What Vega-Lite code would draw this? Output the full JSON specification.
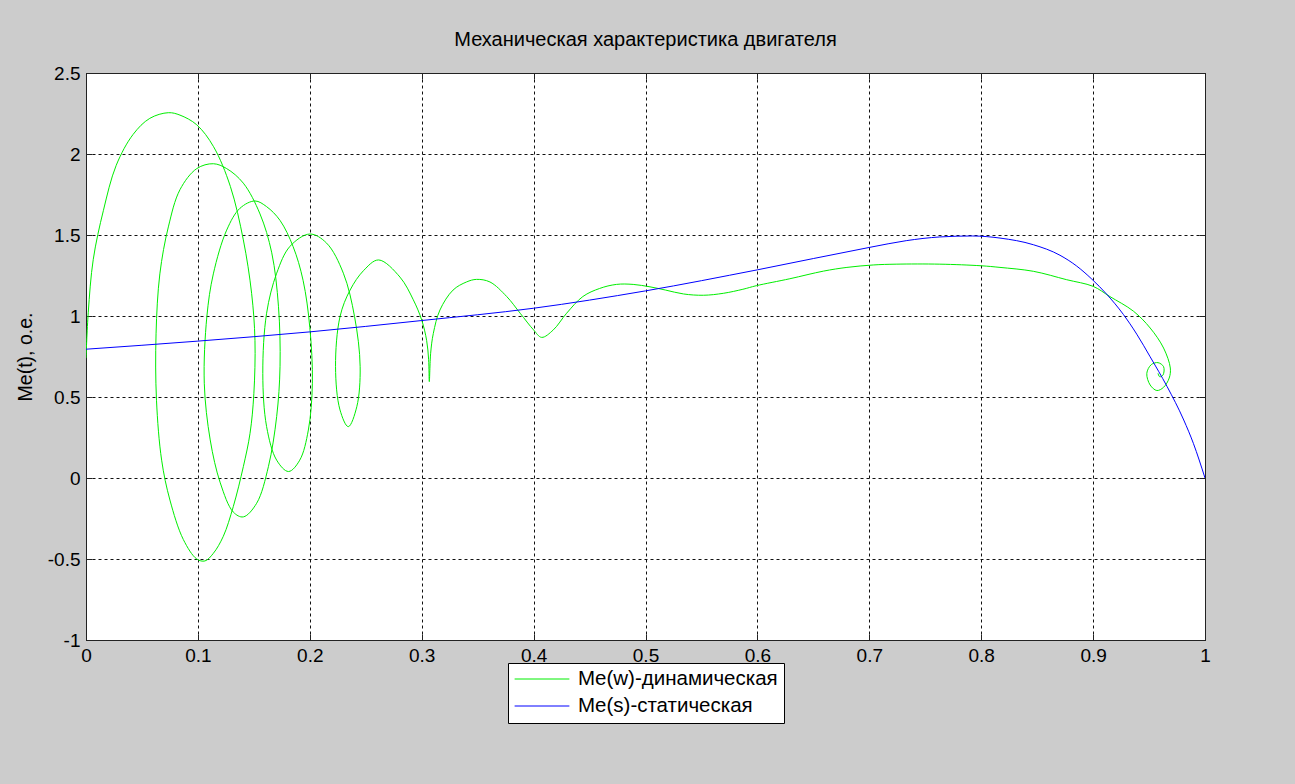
{
  "$schema": "https://vega.github.io/schema/vega-lite/v6.json",
  "autosize": {"type": "none"},
  "width": 1119,
  "height": 567,
  "padding": {"left": 86, "top": 73, "right": 90, "bottom": 144},
  "background": "#cccccc",
  "config": {
    "font": "Liberation Sans",
    "view": {"fill": "white", "stroke": "#222222", "strokeWidth": 1},
    "axis": {"labelFontSize": 19, "labelColor": "black", "titleFontSize": 19.5, "titleFontWeight": "normal", "titleColor": "black", "domainColor": "#222222", "tickColor": "#222222"},
    "legend": {"labelFontSize": 20.5, "labelColor": "black"}
  },
  "title": {"text": "Механическая характеристика двигателя", "fontSize": 20, "fontWeight": "normal", "color": "black", "offset": 14, "anchor": "middle"},
  "data": {"values": [
    {"s": "Me(w)-динамическая", "o": 1, "x": 0, "y": 0.74},
    {"s": "Me(w)-динамическая", "o": 2, "x": 0.002, "y": 1.02},
    {"s": "Me(w)-динамическая", "o": 3, "x": 0.0065, "y": 1.35},
    {"s": "Me(w)-динамическая", "o": 4, "x": 0.0155, "y": 1.65},
    {"s": "Me(w)-динамическая", "o": 5, "x": 0.027, "y": 1.93},
    {"s": "Me(w)-динамическая", "o": 6, "x": 0.042, "y": 2.12},
    {"s": "Me(w)-динамическая", "o": 7, "x": 0.057, "y": 2.22},
    {"s": "Me(w)-динамическая", "o": 8, "x": 0.0736, "y": 2.255},
    {"s": "Me(w)-динамическая", "o": 9, "x": 0.084, "y": 2.24},
    {"s": "Me(w)-динамическая", "o": 10, "x": 0.099, "y": 2.18},
    {"s": "Me(w)-динамическая", "o": 11, "x": 0.114, "y": 2.045},
    {"s": "Me(w)-динамическая", "o": 12, "x": 0.129, "y": 1.8},
    {"s": "Me(w)-динамическая", "o": 13, "x": 0.1406, "y": 1.47},
    {"s": "Me(w)-динамическая", "o": 14, "x": 0.148, "y": 1.14},
    {"s": "Me(w)-динамическая", "o": 15, "x": 0.151, "y": 0.85},
    {"s": "Me(w)-динамическая", "o": 16, "x": 0.15, "y": 0.52},
    {"s": "Me(w)-динамическая", "o": 17, "x": 0.1466, "y": 0.276},
    {"s": "Me(w)-динамическая", "o": 18, "x": 0.1406, "y": 0.07},
    {"s": "Me(w)-динамическая", "o": 19, "x": 0.1316, "y": -0.177},
    {"s": "Me(w)-динамическая", "o": 20, "x": 0.1227, "y": -0.36},
    {"s": "Me(w)-динамическая", "o": 21, "x": 0.1138, "y": -0.465},
    {"s": "Me(w)-динамическая", "o": 22, "x": 0.1063, "y": -0.512},
    {"s": "Me(w)-динамическая", "o": 23, "x": 0.099, "y": -0.5},
    {"s": "Me(w)-динамическая", "o": 24, "x": 0.087, "y": -0.38},
    {"s": "Me(w)-динамическая", "o": 25, "x": 0.075, "y": -0.136},
    {"s": "Me(w)-динамическая", "o": 26, "x": 0.0676, "y": 0.11},
    {"s": "Me(w)-динамическая", "o": 27, "x": 0.063, "y": 0.48},
    {"s": "Me(w)-динамическая", "o": 28, "x": 0.0626, "y": 0.89},
    {"s": "Me(w)-динамическая", "o": 29, "x": 0.066, "y": 1.26},
    {"s": "Me(w)-динамическая", "o": 30, "x": 0.0736, "y": 1.55},
    {"s": "Me(w)-динамическая", "o": 31, "x": 0.084, "y": 1.78},
    {"s": "Me(w)-динамическая", "o": 32, "x": 0.099, "y": 1.91},
    {"s": "Me(w)-динамическая", "o": 33, "x": 0.1138, "y": 1.94},
    {"s": "Me(w)-динамическая", "o": 34, "x": 0.1257, "y": 1.91},
    {"s": "Me(w)-динамическая", "o": 35, "x": 0.1406, "y": 1.82},
    {"s": "Me(w)-динамическая", "o": 36, "x": 0.1555, "y": 1.63},
    {"s": "Me(w)-динамическая", "o": 37, "x": 0.166, "y": 1.39},
    {"s": "Me(w)-динамическая", "o": 38, "x": 0.172, "y": 1.06},
    {"s": "Me(w)-динамическая", "o": 39, "x": 0.1734, "y": 0.69},
    {"s": "Me(w)-динамическая", "o": 40, "x": 0.1704, "y": 0.38},
    {"s": "Me(w)-динамическая", "o": 41, "x": 0.163, "y": 0.07},
    {"s": "Me(w)-динамическая", "o": 42, "x": 0.1525, "y": -0.156},
    {"s": "Me(w)-динамическая", "o": 43, "x": 0.1406, "y": -0.24},
    {"s": "Me(w)-динамическая", "o": 44, "x": 0.1316, "y": -0.21},
    {"s": "Me(w)-динамическая", "o": 45, "x": 0.12, "y": -0.03},
    {"s": "Me(w)-динамическая", "o": 46, "x": 0.111, "y": 0.235},
    {"s": "Me(w)-динамическая", "o": 47, "x": 0.1057, "y": 0.585},
    {"s": "Me(w)-динамическая", "o": 48, "x": 0.108, "y": 0.996},
    {"s": "Me(w)-динамическая", "o": 49, "x": 0.1138, "y": 1.26},
    {"s": "Me(w)-динамическая", "o": 50, "x": 0.1257, "y": 1.53},
    {"s": "Me(w)-динамическая", "o": 51, "x": 0.1376, "y": 1.665},
    {"s": "Me(w)-динамическая", "o": 52, "x": 0.151, "y": 1.71},
    {"s": "Me(w)-динамическая", "o": 53, "x": 0.1614, "y": 1.675},
    {"s": "Me(w)-динамическая", "o": 54, "x": 0.1734, "y": 1.59},
    {"s": "Me(w)-динамическая", "o": 55, "x": 0.185, "y": 1.43},
    {"s": "Me(w)-динамическая", "o": 56, "x": 0.194, "y": 1.22},
    {"s": "Me(w)-динамическая", "o": 57, "x": 0.2, "y": 0.93},
    {"s": "Me(w)-динамическая", "o": 58, "x": 0.2023, "y": 0.585},
    {"s": "Me(w)-динамическая", "o": 59, "x": 0.1987, "y": 0.296},
    {"s": "Me(w)-динамическая", "o": 60, "x": 0.191, "y": 0.11},
    {"s": "Me(w)-динамическая", "o": 61, "x": 0.181, "y": 0.04},
    {"s": "Me(w)-динамическая", "o": 62, "x": 0.1704, "y": 0.11},
    {"s": "Me(w)-динамическая", "o": 63, "x": 0.1614, "y": 0.317},
    {"s": "Me(w)-динамическая", "o": 64, "x": 0.158, "y": 0.646},
    {"s": "Me(w)-динамическая", "o": 65, "x": 0.1614, "y": 1.017},
    {"s": "Me(w)-динамическая", "o": 66, "x": 0.1704, "y": 1.264},
    {"s": "Me(w)-динамическая", "o": 67, "x": 0.1823, "y": 1.43},
    {"s": "Me(w)-динамическая", "o": 68, "x": 0.2, "y": 1.506},
    {"s": "Me(w)-динамическая", "o": 69, "x": 0.215, "y": 1.45},
    {"s": "Me(w)-динамическая", "o": 70, "x": 0.23, "y": 1.264},
    {"s": "Me(w)-динамическая", "o": 71, "x": 0.24, "y": 0.996},
    {"s": "Me(w)-динамическая", "o": 72, "x": 0.245, "y": 0.687},
    {"s": "Me(w)-динамическая", "o": 73, "x": 0.242, "y": 0.44},
    {"s": "Me(w)-динамическая", "o": 74, "x": 0.2344, "y": 0.317},
    {"s": "Me(w)-динамическая", "o": 75, "x": 0.227, "y": 0.42},
    {"s": "Me(w)-динамическая", "o": 76, "x": 0.223, "y": 0.687},
    {"s": "Me(w)-динамическая", "o": 77, "x": 0.227, "y": 0.996},
    {"s": "Me(w)-динамическая", "o": 78, "x": 0.236, "y": 1.16},
    {"s": "Me(w)-динамическая", "o": 79, "x": 0.248, "y": 1.28},
    {"s": "Me(w)-динамическая", "o": 80, "x": 0.2615, "y": 1.346},
    {"s": "Me(w)-динамическая", "o": 81, "x": 0.2806, "y": 1.24},
    {"s": "Me(w)-динамическая", "o": 82, "x": 0.2925, "y": 1.1},
    {"s": "Me(w)-динамическая", "o": 83, "x": 0.3, "y": 0.975},
    {"s": "Me(w)-динамическая", "o": 84, "x": 0.3044, "y": 0.85},
    {"s": "Me(w)-динамическая", "o": 85, "x": 0.3062, "y": 0.73},
    {"s": "Me(w)-динамическая", "o": 86, "x": 0.3068, "y": 0.595},
    {"s": "Me(w)-динамическая", "o": 87, "x": 0.308, "y": 0.77},
    {"s": "Me(w)-динамическая", "o": 88, "x": 0.3104, "y": 0.893},
    {"s": "Me(w)-динамическая", "o": 89, "x": 0.3163, "y": 1.037},
    {"s": "Me(w)-динамическая", "o": 90, "x": 0.328, "y": 1.16},
    {"s": "Me(w)-динамическая", "o": 91, "x": 0.34, "y": 1.21},
    {"s": "Me(w)-динамическая", "o": 92, "x": 0.349, "y": 1.226},
    {"s": "Me(w)-динамическая", "o": 93, "x": 0.361, "y": 1.21},
    {"s": "Me(w)-динамическая", "o": 94, "x": 0.376, "y": 1.12},
    {"s": "Me(w)-динамическая", "o": 95, "x": 0.388, "y": 1.017},
    {"s": "Me(w)-динамическая", "o": 96, "x": 0.4, "y": 0.914},
    {"s": "Me(w)-динамическая", "o": 97, "x": 0.4072, "y": 0.868},
    {"s": "Me(w)-динамическая", "o": 98, "x": 0.4176, "y": 0.914},
    {"s": "Me(w)-динамическая", "o": 99, "x": 0.4295, "y": 1.017},
    {"s": "Me(w)-динамическая", "o": 100, "x": 0.444, "y": 1.12},
    {"s": "Me(w)-динамическая", "o": 101, "x": 0.459, "y": 1.17},
    {"s": "Me(w)-динамическая", "o": 102, "x": 0.474, "y": 1.195},
    {"s": "Me(w)-динамическая", "o": 103, "x": 0.489, "y": 1.195},
    {"s": "Me(w)-динамическая", "o": 104, "x": 0.504, "y": 1.18},
    {"s": "Me(w)-динамическая", "o": 105, "x": 0.518, "y": 1.16},
    {"s": "Me(w)-динамическая", "o": 106, "x": 0.534, "y": 1.136},
    {"s": "Me(w)-динамическая", "o": 107, "x": 0.5517, "y": 1.128},
    {"s": "Me(w)-динамическая", "o": 108, "x": 0.5695, "y": 1.14},
    {"s": "Me(w)-динамическая", "o": 109, "x": 0.587, "y": 1.165},
    {"s": "Me(w)-динамическая", "o": 110, "x": 0.599, "y": 1.187},
    {"s": "Me(w)-динамическая", "o": 111, "x": 0.629, "y": 1.23},
    {"s": "Me(w)-динамическая", "o": 112, "x": 0.659, "y": 1.277},
    {"s": "Me(w)-динамическая", "o": 113, "x": 0.68, "y": 1.3},
    {"s": "Me(w)-динамическая", "o": 114, "x": 0.7035, "y": 1.315},
    {"s": "Me(w)-динамическая", "o": 115, "x": 0.724, "y": 1.32},
    {"s": "Me(w)-динамическая", "o": 116, "x": 0.763, "y": 1.32},
    {"s": "Me(w)-динамическая", "o": 117, "x": 0.8, "y": 1.31},
    {"s": "Me(w)-динамическая", "o": 118, "x": 0.8168, "y": 1.3},
    {"s": "Me(w)-динамическая", "o": 119, "x": 0.8466, "y": 1.276},
    {"s": "Me(w)-динамическая", "o": 120, "x": 0.8764, "y": 1.224},
    {"s": "Me(w)-динамическая", "o": 121, "x": 0.9, "y": 1.183},
    {"s": "Me(w)-динамическая", "o": 122, "x": 0.915, "y": 1.12},
    {"s": "Me(w)-динамическая", "o": 123, "x": 0.936, "y": 1.03},
    {"s": "Me(w)-динамическая", "o": 124, "x": 0.951, "y": 0.926},
    {"s": "Me(w)-динамическая", "o": 125, "x": 0.963, "y": 0.802},
    {"s": "Me(w)-динамическая", "o": 126, "x": 0.969, "y": 0.679},
    {"s": "Me(w)-динамическая", "o": 127, "x": 0.968, "y": 0.617},
    {"s": "Me(w)-динамическая", "o": 128, "x": 0.963, "y": 0.56},
    {"s": "Me(w)-динамическая", "o": 129, "x": 0.957, "y": 0.54},
    {"s": "Me(w)-динамическая", "o": 130, "x": 0.951, "y": 0.574},
    {"s": "Me(w)-динамическая", "o": 131, "x": 0.948, "y": 0.646},
    {"s": "Me(w)-динамическая", "o": 132, "x": 0.952, "y": 0.7},
    {"s": "Me(w)-динамическая", "o": 133, "x": 0.958, "y": 0.712},
    {"s": "Me(w)-динамическая", "o": 134, "x": 0.963, "y": 0.687},
    {"s": "Me(w)-динамическая", "o": 135, "x": 0.9625, "y": 0.636},
    {"s": "Me(w)-динамическая", "o": 136, "x": 0.9595, "y": 0.625},
    {"s": "Me(w)-динамическая", "o": 137, "x": 0.958, "y": 0.646},
    {"s": "Me(s)-статическая", "o": 1, "x": 0, "y": 0.795},
    {"s": "Me(s)-статическая", "o": 2, "x": 0.1, "y": 0.845},
    {"s": "Me(s)-статическая", "o": 3, "x": 0.2, "y": 0.902},
    {"s": "Me(s)-статическая", "o": 4, "x": 0.3, "y": 0.972},
    {"s": "Me(s)-статическая", "o": 5, "x": 0.4, "y": 1.048},
    {"s": "Me(s)-статическая", "o": 6, "x": 0.5, "y": 1.155},
    {"s": "Me(s)-статическая", "o": 7, "x": 0.6, "y": 1.285},
    {"s": "Me(s)-статическая", "o": 8, "x": 0.7006, "y": 1.424},
    {"s": "Me(s)-статическая", "o": 9, "x": 0.733, "y": 1.465},
    {"s": "Me(s)-статическая", "o": 10, "x": 0.763, "y": 1.488},
    {"s": "Me(s)-статическая", "o": 11, "x": 0.792, "y": 1.494},
    {"s": "Me(s)-статическая", "o": 12, "x": 0.8168, "y": 1.481},
    {"s": "Me(s)-статическая", "o": 13, "x": 0.8466, "y": 1.44},
    {"s": "Me(s)-статическая", "o": 14, "x": 0.8704, "y": 1.375},
    {"s": "Me(s)-статическая", "o": 15, "x": 0.885, "y": 1.31},
    {"s": "Me(s)-статическая", "o": 16, "x": 0.8988, "y": 1.228},
    {"s": "Me(s)-статическая", "o": 17, "x": 0.9122, "y": 1.134},
    {"s": "Me(s)-статическая", "o": 18, "x": 0.927, "y": 1.01},
    {"s": "Me(s)-статическая", "o": 19, "x": 0.939, "y": 0.888},
    {"s": "Me(s)-статическая", "o": 20, "x": 0.951, "y": 0.748},
    {"s": "Me(s)-статическая", "o": 21, "x": 0.966, "y": 0.566},
    {"s": "Me(s)-статическая", "o": 22, "x": 0.981, "y": 0.358},
    {"s": "Me(s)-статическая", "o": 23, "x": 0.9896, "y": 0.214},
    {"s": "Me(s)-статическая", "o": 24, "x": 1.0, "y": 0.0}
  ]},
  "resolve": {"axis": {"x": "independent", "y": "independent"}},
  "layer": [
    {
      "transform": [{"filter": "datum.s === 'Me(w)-динамическая'"}],
      "mark": {"type": "line", "strokeWidth": 1, "interpolate": "catmull-rom", "clip": true},
      "encoding": {
        "x": {"field": "x", "type": "quantitative", "scale": {"domain": [0, 1], "nice": false, "zero": false},
              "axis": {"orient": "bottom", "title": null, "values": [0, 0.1, 0.2, 0.3, 0.4, 0.5, 0.6, 0.7, 0.8, 0.9, 1], "labelExpr": "'' + datum.value", "grid": true, "gridColor": "#111111", "gridDash": [3, 3], "gridOpacity": 1, "tickSize": -6, "labelPadding": 12, "labelFlush": false}},
        "y": {"field": "y", "type": "quantitative", "scale": {"domain": [-1, 2.5], "nice": false, "zero": false},
              "axis": {"orient": "left", "title": "Me(t), o.e.", "values": [-1, -0.5, 0, 0.5, 1, 1.5, 2, 2.5], "labelExpr": "'' + datum.value", "grid": true, "gridColor": "#111111", "gridDash": [3, 3], "gridOpacity": 1, "tickSize": -6, "labelPadding": 12, "titlePadding": 12, "labelFlush": false}},
        "order": {"field": "o", "type": "quantitative"},
        "color": {"field": "s", "type": "nominal", "scale": {"domain": ["Me(w)-динамическая", "Me(s)-статическая"], "range": ["#00ee00", "#0000ff"]},
                  "legend": {"title": null, "orient": "none", "legendX": 422, "legendY": 590, "fillColor": "white", "strokeColor": "black", "padding": 6, "symbolType": "stroke", "symbolSize": 3000, "symbolStrokeWidth": 1, "clipHeight": 20, "rowPadding": 6, "labelOffset": 8, "labelLimit": 400}}
      }
    },
    {
      "transform": [{"filter": "datum.s === 'Me(s)-статическая'"}],
      "mark": {"type": "line", "strokeWidth": 1, "interpolate": "monotone", "clip": true},
      "encoding": {
        "x": {"field": "x", "type": "quantitative",
              "axis": {"orient": "top", "title": null, "labels": false, "grid": false, "values": [0, 0.1, 0.2, 0.3, 0.4, 0.5, 0.6, 0.7, 0.8, 0.9, 1], "tickSize": -6}},
        "y": {"field": "y", "type": "quantitative",
              "axis": {"orient": "right", "title": null, "labels": false, "grid": false, "values": [-1, -0.5, 0, 0.5, 1, 1.5, 2, 2.5], "tickSize": -6}},
        "order": {"field": "o", "type": "quantitative"},
        "color": {"field": "s", "type": "nominal"}
      }
    }
  ]
}
